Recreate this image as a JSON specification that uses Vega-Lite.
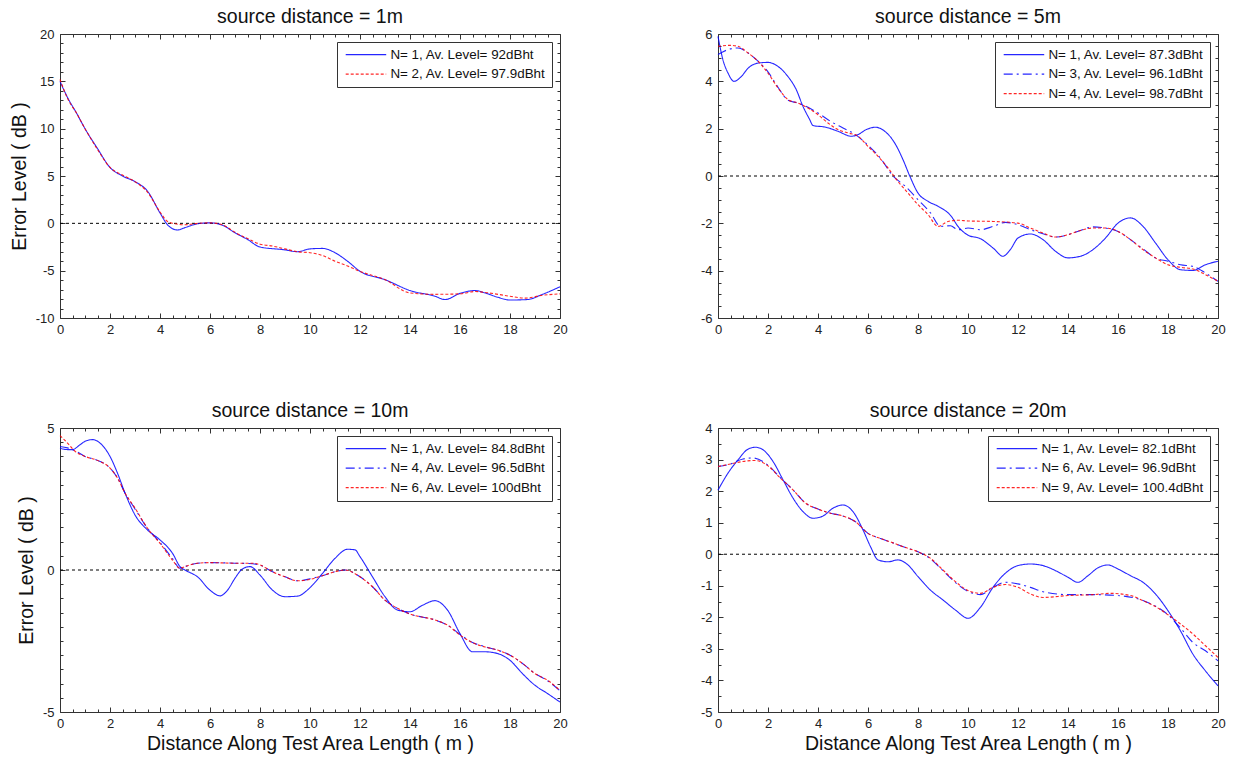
{
  "$schema": "https://vega.github.io/schema/vega-lite/v6.json",
  "background": "white",
  "padding": {"left": 8, "top": 6, "right": 5, "bottom": 2},
  "datasets": {
    "d1": [
      {"n":1,"x":0,"y":15.0},{"n":1,"x":0.3,"y":13.3},{"n":1,"x":0.67,"y":11.6},{"n":1,"x":1,"y":10.0},{"n":1,"x":1.5,"y":7.9},{"n":1,"x":2,"y":5.9},{"n":1,"x":2.5,"y":5.0},{"n":1,"x":3,"y":4.4},{"n":1,"x":3.5,"y":3.4},{"n":1,"x":4,"y":1.1},{"n":1,"x":4.3,"y":-0.15},{"n":1,"x":4.7,"y":-0.7},{"n":1,"x":5,"y":-0.45},{"n":1,"x":5.5,"y":-0.05},{"n":1,"x":6,"y":0.05},{"n":1,"x":6.5,"y":-0.2},{"n":1,"x":7,"y":-1.0},{"n":1,"x":7.5,"y":-1.7},{"n":1,"x":8,"y":-2.5},{"n":1,"x":9,"y":-2.8},{"n":1,"x":9.5,"y":-3.0},{"n":1,"x":10,"y":-2.7},{"n":1,"x":10.5,"y":-2.65},{"n":1,"x":11,"y":-3.1},{"n":1,"x":11.5,"y":-4.0},{"n":1,"x":12,"y":-5.07},{"n":1,"x":13,"y":-5.95},{"n":1,"x":14,"y":-7.1},{"n":1,"x":15,"y":-7.7},{"n":1,"x":15.4,"y":-8.05},{"n":1,"x":16,"y":-7.4},{"n":1,"x":16.6,"y":-7.1},{"n":1,"x":17,"y":-7.35},{"n":1,"x":17.5,"y":-7.8},{"n":1,"x":18,"y":-8.1},{"n":1,"x":18.7,"y":-8.05},{"n":1,"x":19.3,"y":-7.5},{"n":1,"x":20,"y":-6.7},
      {"n":2,"x":0,"y":15.2},{"n":2,"x":0.3,"y":13.2},{"n":2,"x":0.67,"y":11.6},{"n":2,"x":1,"y":10.0},{"n":2,"x":1.5,"y":7.8},{"n":2,"x":2,"y":5.9},{"n":2,"x":2.5,"y":5.1},{"n":2,"x":3,"y":4.4},{"n":2,"x":3.5,"y":3.3},{"n":2,"x":4,"y":1.2},{"n":2,"x":4.3,"y":0.2},{"n":2,"x":4.6,"y":-0.05},{"n":2,"x":5,"y":-0.15},{"n":2,"x":5.5,"y":0.0},{"n":2,"x":6,"y":0.05},{"n":2,"x":6.5,"y":-0.15},{"n":2,"x":7,"y":-0.95},{"n":2,"x":7.5,"y":-1.6},{"n":2,"x":8,"y":-2.2},{"n":2,"x":8.5,"y":-2.4},{"n":2,"x":9,"y":-2.7},{"n":2,"x":9.5,"y":-3.0},{"n":2,"x":10,"y":-3.1},{"n":2,"x":10.5,"y":-3.4},{"n":2,"x":11,"y":-4.0},{"n":2,"x":11.5,"y":-4.5},{"n":2,"x":12,"y":-5.07},{"n":2,"x":13,"y":-5.95},{"n":2,"x":14,"y":-7.35},{"n":2,"x":15,"y":-7.5},{"n":2,"x":16,"y":-7.45},{"n":2,"x":16.6,"y":-7.2},{"n":2,"x":17,"y":-7.3},{"n":2,"x":18,"y":-7.7},{"n":2,"x":18.6,"y":-7.9},{"n":2,"x":19.3,"y":-7.6},{"n":2,"x":20,"y":-7.45}
    ],
    "d5": [
      {"n":1,"x":0,"y":5.9},{"n":1,"x":0.2,"y":4.9},{"n":1,"x":0.4,"y":4.35},{"n":1,"x":0.64,"y":4.0},{"n":1,"x":0.93,"y":4.2},{"n":1,"x":1.2,"y":4.55},{"n":1,"x":1.6,"y":4.77},{"n":1,"x":2,"y":4.8},{"n":1,"x":2.4,"y":4.63},{"n":1,"x":2.8,"y":4.2},{"n":1,"x":3.13,"y":3.65},{"n":1,"x":3.4,"y":2.94},{"n":1,"x":3.67,"y":2.38},{"n":1,"x":3.8,"y":2.13},{"n":1,"x":4.27,"y":2.07},{"n":1,"x":4.8,"y":1.89},{"n":1,"x":5.33,"y":1.68},{"n":1,"x":5.6,"y":1.75},{"n":1,"x":5.93,"y":1.96},{"n":1,"x":6.3,"y":2.06},{"n":1,"x":6.67,"y":1.89},{"n":1,"x":7.07,"y":1.39},{"n":1,"x":7.4,"y":0.69},{"n":1,"x":7.67,"y":0.0},{"n":1,"x":8,"y":-0.72},{"n":1,"x":8.4,"y":-1.07},{"n":1,"x":8.8,"y":-1.28},{"n":1,"x":9.33,"y":-1.7},{"n":1,"x":9.6,"y":-2.13},{"n":1,"x":10,"y":-2.5},{"n":1,"x":10.5,"y":-2.65},{"n":1,"x":11,"y":-3.04},{"n":1,"x":11.4,"y":-3.39},{"n":1,"x":11.7,"y":-3.1},{"n":1,"x":12,"y":-2.62},{"n":1,"x":12.5,"y":-2.45},{"n":1,"x":13,"y":-2.69},{"n":1,"x":13.5,"y":-3.18},{"n":1,"x":14,"y":-3.46},{"n":1,"x":14.5,"y":-3.39},{"n":1,"x":15,"y":-3.11},{"n":1,"x":15.5,"y":-2.62},{"n":1,"x":16,"y":-1.99},{"n":1,"x":16.5,"y":-1.77},{"n":1,"x":17,"y":-2.13},{"n":1,"x":17.5,"y":-2.83},{"n":1,"x":18,"y":-3.54},{"n":1,"x":18.5,"y":-3.96},{"n":1,"x":19,"y":-3.99},{"n":1,"x":19.5,"y":-3.75},{"n":1,"x":20,"y":-3.6},
      {"n":3,"x":0,"y":5.13},{"n":3,"x":0.4,"y":5.34},{"n":3,"x":0.8,"y":5.41},{"n":3,"x":1.2,"y":5.2},{"n":3,"x":1.6,"y":4.85},{"n":3,"x":2,"y":4.4},{"n":3,"x":2.4,"y":3.75},{"n":3,"x":2.8,"y":3.2},{"n":3,"x":3.2,"y":3.08},{"n":3,"x":3.6,"y":2.9},{"n":3,"x":4,"y":2.66},{"n":3,"x":4.5,"y":2.31},{"n":3,"x":5,"y":2.03},{"n":3,"x":5.5,"y":1.75},{"n":3,"x":6,"y":1.3},{"n":3,"x":6.5,"y":0.75},{"n":3,"x":7,"y":0.0},{"n":3,"x":7.5,"y":-0.44},{"n":3,"x":8,"y":-1.0},{"n":3,"x":8.5,"y":-1.56},{"n":3,"x":8.9,"y":-2.13},{"n":3,"x":9.3,"y":-2.1},{"n":3,"x":9.6,"y":-2.27},{"n":3,"x":10,"y":-2.2},{"n":3,"x":10.5,"y":-2.27},{"n":3,"x":11,"y":-2.13},{"n":3,"x":11.5,"y":-1.96},{"n":3,"x":12,"y":-2.06},{"n":3,"x":12.5,"y":-2.27},{"n":3,"x":13,"y":-2.44},{"n":3,"x":13.5,"y":-2.58},{"n":3,"x":14,"y":-2.48},{"n":3,"x":14.5,"y":-2.3},{"n":3,"x":15,"y":-2.15},{"n":3,"x":15.5,"y":-2.2},{"n":3,"x":16,"y":-2.34},{"n":3,"x":16.5,"y":-2.69},{"n":3,"x":17,"y":-3.08},{"n":3,"x":17.5,"y":-3.46},{"n":3,"x":18,"y":-3.6},{"n":3,"x":18.5,"y":-3.75},{"n":3,"x":19,"y":-3.82},{"n":3,"x":19.5,"y":-4.1},{"n":3,"x":20,"y":-4.45},
      {"n":4,"x":0,"y":5.48},{"n":4,"x":0.5,"y":5.52},{"n":4,"x":0.8,"y":5.48},{"n":4,"x":1.2,"y":5.2},{"n":4,"x":1.6,"y":4.85},{"n":4,"x":2,"y":4.35},{"n":4,"x":2.4,"y":3.72},{"n":4,"x":2.8,"y":3.23},{"n":4,"x":3.2,"y":3.08},{"n":4,"x":3.6,"y":2.87},{"n":4,"x":4,"y":2.59},{"n":4,"x":4.4,"y":2.24},{"n":4,"x":4.8,"y":1.96},{"n":4,"x":5.2,"y":1.82},{"n":4,"x":5.6,"y":1.68},{"n":4,"x":6,"y":1.25},{"n":4,"x":6.4,"y":0.83},{"n":4,"x":6.8,"y":0.34},{"n":4,"x":7.2,"y":-0.23},{"n":4,"x":7.6,"y":-0.72},{"n":4,"x":8,"y":-1.21},{"n":4,"x":8.4,"y":-1.63},{"n":4,"x":8.8,"y":-2.13},{"n":4,"x":9.2,"y":-1.92},{"n":4,"x":9.6,"y":-1.87},{"n":4,"x":10,"y":-1.9},{"n":4,"x":11,"y":-1.92},{"n":4,"x":12,"y":-1.99},{"n":4,"x":12.5,"y":-2.2},{"n":4,"x":13,"y":-2.41},{"n":4,"x":13.5,"y":-2.58},{"n":4,"x":14,"y":-2.48},{"n":4,"x":14.5,"y":-2.3},{"n":4,"x":15,"y":-2.2},{"n":4,"x":15.5,"y":-2.2},{"n":4,"x":16,"y":-2.34},{"n":4,"x":16.5,"y":-2.69},{"n":4,"x":17,"y":-3.11},{"n":4,"x":17.5,"y":-3.46},{"n":4,"x":18,"y":-3.75},{"n":4,"x":18.5,"y":-3.86},{"n":4,"x":19,"y":-3.93},{"n":4,"x":19.5,"y":-4.17},{"n":4,"x":20,"y":-4.45}
    ],
    "d10": [
      {"n":1,"x":0,"y":4.29},{"n":1,"x":0.3,"y":4.24},{"n":1,"x":0.5,"y":4.24},{"n":1,"x":0.8,"y":4.41},{"n":1,"x":1,"y":4.53},{"n":1,"x":1.3,"y":4.59},{"n":1,"x":1.6,"y":4.47},{"n":1,"x":2,"y":4.0},{"n":1,"x":2.3,"y":3.41},{"n":1,"x":2.6,"y":2.71},{"n":1,"x":3,"y":1.94},{"n":1,"x":3.5,"y":1.41},{"n":1,"x":4,"y":1.06},{"n":1,"x":4.5,"y":0.59},{"n":1,"x":4.8,"y":0.12},{"n":1,"x":5,"y":0.0},{"n":1,"x":5.5,"y":-0.24},{"n":1,"x":6,"y":-0.71},{"n":1,"x":6.4,"y":-0.91},{"n":1,"x":6.7,"y":-0.71},{"n":1,"x":7,"y":-0.29},{"n":1,"x":7.3,"y":0.04},{"n":1,"x":7.6,"y":0.12},{"n":1,"x":8,"y":-0.18},{"n":1,"x":8.5,"y":-0.71},{"n":1,"x":9,"y":-0.94},{"n":1,"x":9.5,"y":-0.92},{"n":1,"x":10,"y":-0.62},{"n":1,"x":10.5,"y":-0.12},{"n":1,"x":11,"y":0.41},{"n":1,"x":11.5,"y":0.73},{"n":1,"x":11.8,"y":0.71},{"n":1,"x":12,"y":0.47},{"n":1,"x":12.5,"y":-0.24},{"n":1,"x":13,"y":-0.94},{"n":1,"x":13.5,"y":-1.41},{"n":1,"x":14,"y":-1.47},{"n":1,"x":14.5,"y":-1.24},{"n":1,"x":15,"y":-1.08},{"n":1,"x":15.5,"y":-1.41},{"n":1,"x":16,"y":-2.24},{"n":1,"x":16.5,"y":-2.88},{"n":1,"x":17,"y":-2.88},{"n":1,"x":17.5,"y":-2.94},{"n":1,"x":18,"y":-3.18},{"n":1,"x":18.5,"y":-3.65},{"n":1,"x":19,"y":-4.06},{"n":1,"x":19.5,"y":-4.35},{"n":1,"x":20,"y":-4.65},
      {"n":4,"x":0,"y":4.35},{"n":4,"x":0.3,"y":4.3},{"n":4,"x":0.6,"y":4.2},{"n":4,"x":1,"y":4.0},{"n":4,"x":1.5,"y":3.86},{"n":4,"x":2,"y":3.59},{"n":4,"x":2.3,"y":3.24},{"n":4,"x":2.6,"y":2.71},{"n":4,"x":3,"y":2.15},{"n":4,"x":3.5,"y":1.47},{"n":4,"x":4,"y":0.97},{"n":4,"x":4.5,"y":0.4},{"n":4,"x":4.8,"y":0.06},{"n":4,"x":5,"y":0.12},{"n":4,"x":5.5,"y":0.24},{"n":4,"x":6,"y":0.26},{"n":4,"x":7,"y":0.24},{"n":4,"x":7.7,"y":0.22},{"n":4,"x":8,"y":0.17},{"n":4,"x":8.5,"y":-0.06},{"n":4,"x":9,"y":-0.24},{"n":4,"x":9.5,"y":-0.38},{"n":4,"x":10,"y":-0.31},{"n":4,"x":10.5,"y":-0.2},{"n":4,"x":11,"y":-0.06},{"n":4,"x":11.4,"y":0.0},{"n":4,"x":12,"y":-0.24},{"n":4,"x":12.5,"y":-0.59},{"n":4,"x":13,"y":-1.06},{"n":4,"x":13.5,"y":-1.35},{"n":4,"x":14,"y":-1.55},{"n":4,"x":15,"y":-1.76},{"n":4,"x":15.5,"y":-1.94},{"n":4,"x":16,"y":-2.27},{"n":4,"x":16.5,"y":-2.55},{"n":4,"x":17,"y":-2.7},{"n":4,"x":17.5,"y":-2.82},{"n":4,"x":18,"y":-3.0},{"n":4,"x":18.5,"y":-3.29},{"n":4,"x":19,"y":-3.64},{"n":4,"x":19.5,"y":-3.9},{"n":4,"x":20,"y":-4.25},
      {"n":6,"x":0,"y":4.73},{"n":6,"x":0.3,"y":4.47},{"n":6,"x":0.6,"y":4.18},{"n":6,"x":1,"y":4.0},{"n":6,"x":1.5,"y":3.86},{"n":6,"x":2,"y":3.59},{"n":6,"x":2.3,"y":3.24},{"n":6,"x":2.6,"y":2.71},{"n":6,"x":3,"y":2.18},{"n":6,"x":3.5,"y":1.47},{"n":6,"x":4,"y":0.94},{"n":6,"x":4.5,"y":0.35},{"n":6,"x":4.8,"y":0.06},{"n":6,"x":5,"y":0.12},{"n":6,"x":5.5,"y":0.24},{"n":6,"x":6,"y":0.26},{"n":6,"x":7,"y":0.24},{"n":6,"x":7.7,"y":0.24},{"n":6,"x":8,"y":0.18},{"n":6,"x":8.5,"y":-0.06},{"n":6,"x":9,"y":-0.24},{"n":6,"x":9.5,"y":-0.38},{"n":6,"x":10,"y":-0.33},{"n":6,"x":10.5,"y":-0.2},{"n":6,"x":11,"y":-0.06},{"n":6,"x":11.4,"y":0.0},{"n":6,"x":12,"y":-0.24},{"n":6,"x":12.5,"y":-0.59},{"n":6,"x":13,"y":-1.06},{"n":6,"x":13.5,"y":-1.35},{"n":6,"x":14,"y":-1.55},{"n":6,"x":15,"y":-1.76},{"n":6,"x":15.5,"y":-1.94},{"n":6,"x":16,"y":-2.29},{"n":6,"x":16.5,"y":-2.56},{"n":6,"x":17,"y":-2.71},{"n":6,"x":17.5,"y":-2.82},{"n":6,"x":18,"y":-3.0},{"n":6,"x":18.5,"y":-3.29},{"n":6,"x":19,"y":-3.65},{"n":6,"x":19.5,"y":-3.88},{"n":6,"x":20,"y":-4.24}
    ],
    "d20": [
      {"n":1,"x":0,"y":2.03},{"n":1,"x":0.4,"y":2.57},{"n":1,"x":0.8,"y":2.99},{"n":1,"x":1.2,"y":3.33},{"n":1,"x":1.5,"y":3.39},{"n":1,"x":1.8,"y":3.31},{"n":1,"x":2.2,"y":2.94},{"n":1,"x":2.6,"y":2.36},{"n":1,"x":3,"y":1.78},{"n":1,"x":3.4,"y":1.35},{"n":1,"x":3.8,"y":1.14},{"n":1,"x":4.2,"y":1.21},{"n":1,"x":4.6,"y":1.46},{"n":1,"x":5,"y":1.56},{"n":1,"x":5.4,"y":1.35},{"n":1,"x":5.8,"y":0.77},{"n":1,"x":6.1,"y":0.24},{"n":1,"x":6.4,"y":-0.18},{"n":1,"x":6.8,"y":-0.24},{"n":1,"x":7.2,"y":-0.18},{"n":1,"x":7.6,"y":-0.34},{"n":1,"x":8,"y":-0.71},{"n":1,"x":8.5,"y":-1.14},{"n":1,"x":9,"y":-1.45},{"n":1,"x":9.5,"y":-1.77},{"n":1,"x":10,"y":-2.03},{"n":1,"x":10.5,"y":-1.68},{"n":1,"x":11,"y":-1.05},{"n":1,"x":11.5,"y":-0.6},{"n":1,"x":12,"y":-0.36},{"n":1,"x":12.5,"y":-0.31},{"n":1,"x":13,"y":-0.36},{"n":1,"x":13.5,"y":-0.52},{"n":1,"x":14,"y":-0.73},{"n":1,"x":14.4,"y":-0.89},{"n":1,"x":14.8,"y":-0.68},{"n":1,"x":15.2,"y":-0.43},{"n":1,"x":15.6,"y":-0.34},{"n":1,"x":16,"y":-0.47},{"n":1,"x":16.5,"y":-0.68},{"n":1,"x":17,"y":-0.89},{"n":1,"x":17.5,"y":-1.26},{"n":1,"x":18,"y":-1.79},{"n":1,"x":18.5,"y":-2.43},{"n":1,"x":19,"y":-3.17},{"n":1,"x":19.5,"y":-3.7},{"n":1,"x":20,"y":-4.17},
      {"n":6,"x":0,"y":2.78},{"n":6,"x":0.5,"y":2.86},{"n":6,"x":1,"y":3.02},{"n":6,"x":1.4,"y":3.05},{"n":6,"x":2,"y":2.82},{"n":6,"x":2.5,"y":2.42},{"n":6,"x":3,"y":2.04},{"n":6,"x":3.5,"y":1.62},{"n":6,"x":4,"y":1.43},{"n":6,"x":4.5,"y":1.3},{"n":6,"x":5,"y":1.21},{"n":6,"x":5.5,"y":1.03},{"n":6,"x":6,"y":0.66},{"n":6,"x":6.5,"y":0.5},{"n":6,"x":7,"y":0.36},{"n":6,"x":7.5,"y":0.21},{"n":6,"x":8,"y":0.08},{"n":6,"x":8.5,"y":-0.15},{"n":6,"x":9,"y":-0.52},{"n":6,"x":9.5,"y":-0.9},{"n":6,"x":10,"y":-1.18},{"n":6,"x":10.5,"y":-1.28},{"n":6,"x":11,"y":-1.05},{"n":6,"x":11.5,"y":-0.89},{"n":6,"x":12,"y":-0.94},{"n":6,"x":12.5,"y":-1.05},{"n":6,"x":13,"y":-1.19},{"n":6,"x":14,"y":-1.28},{"n":6,"x":15,"y":-1.28},{"n":6,"x":16,"y":-1.31},{"n":6,"x":17,"y":-1.47},{"n":6,"x":18,"y":-1.92},{"n":6,"x":18.5,"y":-2.34},{"n":6,"x":19,"y":-2.8},{"n":6,"x":19.5,"y":-3.06},{"n":6,"x":20,"y":-3.38},
      {"n":9,"x":0,"y":2.78},{"n":9,"x":0.5,"y":2.86},{"n":9,"x":1,"y":2.94},{"n":9,"x":1.5,"y":2.97},{"n":9,"x":2,"y":2.8},{"n":9,"x":2.5,"y":2.41},{"n":9,"x":3,"y":2.04},{"n":9,"x":3.5,"y":1.62},{"n":9,"x":4,"y":1.43},{"n":9,"x":4.5,"y":1.3},{"n":9,"x":5,"y":1.21},{"n":9,"x":5.5,"y":1.03},{"n":9,"x":6,"y":0.66},{"n":9,"x":6.5,"y":0.5},{"n":9,"x":7,"y":0.36},{"n":9,"x":7.5,"y":0.21},{"n":9,"x":8,"y":0.08},{"n":9,"x":8.5,"y":-0.13},{"n":9,"x":9,"y":-0.5},{"n":9,"x":9.5,"y":-0.87},{"n":9,"x":10,"y":-1.15},{"n":9,"x":10.5,"y":-1.24},{"n":9,"x":11,"y":-1.05},{"n":9,"x":11.5,"y":-0.96},{"n":9,"x":12,"y":-1.05},{"n":9,"x":12.5,"y":-1.26},{"n":9,"x":13,"y":-1.37},{"n":9,"x":14,"y":-1.31},{"n":9,"x":15,"y":-1.28},{"n":9,"x":15.7,"y":-1.24},{"n":9,"x":16.5,"y":-1.31},{"n":9,"x":17,"y":-1.47},{"n":9,"x":17.5,"y":-1.66},{"n":9,"x":18,"y":-1.92},{"n":9,"x":18.5,"y":-2.21},{"n":9,"x":19,"y":-2.53},{"n":9,"x":19.5,"y":-2.9},{"n":9,"x":20,"y":-3.27}
    ],
    "zero": [{"level": 0}]
  },
  "columns": 2,
  "spacing": {"row": 110, "column": 158},
  "bounds": "flush",
  "concat": [
    {
      "width": 500, "height": 284,
      "title": {"text": "source distance = 1m"},
      "layer": [
        {
          "data": {"name": "zero"},
          "mark": {"type": "rule", "color": "#000", "strokeWidth": 1, "strokeDash": [3, 3]},
          "encoding": {
            "x": {"datum": 0, "type": "quantitative", "axis": {"orient": "top", "labels": false, "title": null, "values": [0,0.5,1,1.5,2,2.5,3,3.5,4,4.5,5,5.5,6,6.5,7,7.5,8,8.5,9,9.5,10,10.5,11,11.5,12,12.5,13,13.5,14,14.5,15,15.5,16,16.5,17,17.5,18,18.5,19,19.5,20], "tickSize": {"condition": {"test": "datum.value % 2 === 0", "value": -5}, "value": -3}}},
            "x2": {"datum": 20},
            "y": {"field": "level", "type": "quantitative", "axis": {"orient": "right", "labels": false, "title": null, "values": [-10,-9,-8,-7,-6,-5,-4,-3,-2,-1,0,1,2,3,4,5,6,7,8,9,10,11,12,13,14,15,16,17,18,19,20], "tickSize": {"condition": {"test": "datum.value % 5 === 0", "value": -5}, "value": -3}}}
          }
        },
        {
          "data": {"name": "d1"},
          "mark": {"type": "line", "interpolate": "monotone", "strokeWidth": 1.1, "opacity": 0.85},
          "encoding": {
            "x": {"field": "x", "type": "quantitative", "scale": {"domain": [0, 20], "nice": false, "zero": false}, "axis": {"orient": "bottom", "title": null, "values": [0,0.5,1,1.5,2,2.5,3,3.5,4,4.5,5,5.5,6,6.5,7,7.5,8,8.5,9,9.5,10,10.5,11,11.5,12,12.5,13,13.5,14,14.5,15,15.5,16,16.5,17,17.5,18,18.5,19,19.5,20], "labelExpr": "datum.value % 2 === 0 ? '' + datum.value : ''", "tickSize": {"condition": {"test": "datum.value % 2 === 0", "value": -5}, "value": -3}, "labelPadding": 10}},
            "y": {"field": "y", "type": "quantitative", "scale": {"domain": [-10, 20], "nice": false, "zero": false}, "axis": {"orient": "left", "title": "Error Level ( dB )", "values": [-10,-9,-8,-7,-6,-5,-4,-3,-2,-1,0,1,2,3,4,5,6,7,8,9,10,11,12,13,14,15,16,17,18,19,20], "labelExpr": "datum.value % 5 === 0 ? '' + datum.value : ''", "tickSize": {"condition": {"test": "datum.value % 5 === 0", "value": -5}, "value": -3}, "labelPadding": 11}},
            "color": {"field": "n", "type": "nominal", "scale": {"domain": [1, 2], "range": ["#0000ff", "#ff0000"]},
              "legend": {"orient": "top-right", "offset": 8, "title": null, "symbolType": "M-26,0H1", "symbolSize": 9, "symbolOffset": 35, "symbolStrokeWidth": 1.2, "labelOffset": -1, "rowPadding": 4.5, "padding": 6, "strokeColor": "#333", "fillColor": "white", "labelLimit": 400,
                "labelExpr": "datum.value == 1 ? 'N= 1, Av. Level= 92dBht' : 'N= 2, Av. Level= 97.9dBht'"}},
            "strokeDash": {"field": "n", "type": "nominal", "scale": {"domain": [1, 2], "range": [[1, 0], [3, 2]]},
              "legend": {"orient": "top-right", "offset": 8, "title": null, "symbolType": "M-26,0H1", "symbolSize": 9, "symbolOffset": 35, "symbolStrokeWidth": 1.2, "labelOffset": -1, "rowPadding": 4.5, "padding": 6, "strokeColor": "#333", "fillColor": "white", "labelLimit": 400,
                "labelExpr": "datum.value == 1 ? 'N= 1, Av. Level= 92dBht' : 'N= 2, Av. Level= 97.9dBht'"}}
          }
        }
      ],
      "resolve": {"axis": {"x": "independent", "y": "independent"}}
    },
    {
      "width": 500, "height": 284,
      "title": {"text": "source distance = 5m"},
      "layer": [
        {
          "data": {"name": "zero"},
          "mark": {"type": "rule", "color": "#000", "strokeWidth": 1, "strokeDash": [3, 3]},
          "encoding": {
            "x": {"datum": 0, "type": "quantitative", "axis": {"orient": "top", "labels": false, "title": null, "values": [0,0.5,1,1.5,2,2.5,3,3.5,4,4.5,5,5.5,6,6.5,7,7.5,8,8.5,9,9.5,10,10.5,11,11.5,12,12.5,13,13.5,14,14.5,15,15.5,16,16.5,17,17.5,18,18.5,19,19.5,20], "tickSize": {"condition": {"test": "datum.value % 2 === 0", "value": -5}, "value": -3}}},
            "x2": {"datum": 20},
            "y": {"field": "level", "type": "quantitative", "axis": {"orient": "right", "labels": false, "title": null, "values": [-6,-5.5,-5,-4.5,-4,-3.5,-3,-2.5,-2,-1.5,-1,-0.5,0,0.5,1,1.5,2,2.5,3,3.5,4,4.5,5,5.5,6], "tickSize": {"condition": {"test": "datum.value % 2 === 0", "value": -5}, "value": -3}}}
          }
        },
        {
          "data": {"name": "d5"},
          "mark": {"type": "line", "interpolate": "monotone", "strokeWidth": 1.1, "opacity": 0.85},
          "encoding": {
            "x": {"field": "x", "type": "quantitative", "scale": {"domain": [0, 20], "nice": false, "zero": false}, "axis": {"orient": "bottom", "title": null, "values": [0,0.5,1,1.5,2,2.5,3,3.5,4,4.5,5,5.5,6,6.5,7,7.5,8,8.5,9,9.5,10,10.5,11,11.5,12,12.5,13,13.5,14,14.5,15,15.5,16,16.5,17,17.5,18,18.5,19,19.5,20], "labelExpr": "datum.value % 2 === 0 ? '' + datum.value : ''", "tickSize": {"condition": {"test": "datum.value % 2 === 0", "value": -5}, "value": -3}, "labelPadding": 10}},
            "y": {"field": "y", "type": "quantitative", "scale": {"domain": [-6, 6], "nice": false, "zero": false}, "axis": {"orient": "left", "title": null, "values": [-6,-5.5,-5,-4.5,-4,-3.5,-3,-2.5,-2,-1.5,-1,-0.5,0,0.5,1,1.5,2,2.5,3,3.5,4,4.5,5,5.5,6], "labelExpr": "datum.value % 2 === 0 ? '' + datum.value : ''", "tickSize": {"condition": {"test": "datum.value % 2 === 0", "value": -5}, "value": -3}, "labelPadding": 11}},
            "color": {"field": "n", "type": "nominal", "scale": {"domain": [1, 3, 4], "range": ["#0000ff", "#0000ff", "#ff0000"]},
              "legend": {"orient": "top-right", "offset": 8, "title": null, "symbolType": "M-26,0H1", "symbolSize": 9, "symbolOffset": 35, "symbolStrokeWidth": 1.2, "labelOffset": -1, "rowPadding": 4.5, "padding": 6, "strokeColor": "#333", "fillColor": "white", "labelLimit": 400,
                "labelExpr": "datum.value == 1 ? 'N= 1, Av. Level= 87.3dBht' : datum.value == 3 ? 'N= 3, Av. Level= 96.1dBht' : 'N= 4, Av. Level= 98.7dBht'"}},
            "strokeDash": {"field": "n", "type": "nominal", "scale": {"domain": [1, 3, 4], "range": [[1, 0], [9, 4, 2, 4], [3, 2]]},
              "legend": {"orient": "top-right", "offset": 8, "title": null, "symbolType": "M-26,0H1", "symbolSize": 9, "symbolOffset": 35, "symbolStrokeWidth": 1.2, "labelOffset": -1, "rowPadding": 4.5, "padding": 6, "strokeColor": "#333", "fillColor": "white", "labelLimit": 400,
                "labelExpr": "datum.value == 1 ? 'N= 1, Av. Level= 87.3dBht' : datum.value == 3 ? 'N= 3, Av. Level= 96.1dBht' : 'N= 4, Av. Level= 98.7dBht'"}}
          }
        }
      ],
      "resolve": {"axis": {"x": "independent", "y": "independent"}}
    },
    {
      "width": 500, "height": 284,
      "title": {"text": "source distance = 10m"},
      "layer": [
        {
          "data": {"name": "zero"},
          "mark": {"type": "rule", "color": "#000", "strokeWidth": 1, "strokeDash": [3, 3]},
          "encoding": {
            "x": {"datum": 0, "type": "quantitative", "axis": {"orient": "top", "labels": false, "title": null, "values": [0,0.5,1,1.5,2,2.5,3,3.5,4,4.5,5,5.5,6,6.5,7,7.5,8,8.5,9,9.5,10,10.5,11,11.5,12,12.5,13,13.5,14,14.5,15,15.5,16,16.5,17,17.5,18,18.5,19,19.5,20], "tickSize": {"condition": {"test": "datum.value % 2 === 0", "value": -5}, "value": -3}}},
            "x2": {"datum": 20},
            "y": {"field": "level", "type": "quantitative", "axis": {"orient": "right", "labels": false, "title": null, "values": [-5,-4.5,-4,-3.5,-3,-2.5,-2,-1.5,-1,-0.5,0,0.5,1,1.5,2,2.5,3,3.5,4,4.5,5], "tickSize": {"condition": {"test": "datum.value % 5 === 0", "value": -5}, "value": -3}}}
          }
        },
        {
          "data": {"name": "d10"},
          "mark": {"type": "line", "interpolate": "monotone", "strokeWidth": 1.1, "opacity": 0.85},
          "encoding": {
            "x": {"field": "x", "type": "quantitative", "scale": {"domain": [0, 20], "nice": false, "zero": false}, "axis": {"orient": "bottom", "title": "Distance Along Test Area Length ( m )", "values": [0,0.5,1,1.5,2,2.5,3,3.5,4,4.5,5,5.5,6,6.5,7,7.5,8,8.5,9,9.5,10,10.5,11,11.5,12,12.5,13,13.5,14,14.5,15,15.5,16,16.5,17,17.5,18,18.5,19,19.5,20], "labelExpr": "datum.value % 2 === 0 ? '' + datum.value : ''", "tickSize": {"condition": {"test": "datum.value % 2 === 0", "value": -5}, "value": -3}, "labelPadding": 10, "titlePadding": 2}},
            "y": {"field": "y", "type": "quantitative", "scale": {"domain": [-5, 5], "nice": false, "zero": false}, "axis": {"orient": "left", "title": "Error Level ( dB )", "values": [-5,-4.5,-4,-3.5,-3,-2.5,-2,-1.5,-1,-0.5,0,0.5,1,1.5,2,2.5,3,3.5,4,4.5,5], "labelExpr": "datum.value % 5 === 0 ? '' + datum.value : ''", "tickSize": {"condition": {"test": "datum.value % 5 === 0", "value": -5}, "value": -3}, "labelPadding": 11}},
            "color": {"field": "n", "type": "nominal", "scale": {"domain": [1, 4, 6], "range": ["#0000ff", "#0000ff", "#ff0000"]},
              "legend": {"orient": "top-right", "offset": 8, "title": null, "symbolType": "M-26,0H1", "symbolSize": 9, "symbolOffset": 35, "symbolStrokeWidth": 1.2, "labelOffset": -1, "rowPadding": 4.5, "padding": 6, "strokeColor": "#333", "fillColor": "white", "labelLimit": 400,
                "labelExpr": "datum.value == 1 ? 'N= 1, Av. Level= 84.8dBht' : datum.value == 4 ? 'N= 4, Av. Level= 96.5dBht' : 'N= 6, Av. Level= 100dBht'"}},
            "strokeDash": {"field": "n", "type": "nominal", "scale": {"domain": [1, 4, 6], "range": [[1, 0], [9, 4, 2, 4], [3, 2]]},
              "legend": {"orient": "top-right", "offset": 8, "title": null, "symbolType": "M-26,0H1", "symbolSize": 9, "symbolOffset": 35, "symbolStrokeWidth": 1.2, "labelOffset": -1, "rowPadding": 4.5, "padding": 6, "strokeColor": "#333", "fillColor": "white", "labelLimit": 400,
                "labelExpr": "datum.value == 1 ? 'N= 1, Av. Level= 84.8dBht' : datum.value == 4 ? 'N= 4, Av. Level= 96.5dBht' : 'N= 6, Av. Level= 100dBht'"}}
          }
        }
      ],
      "resolve": {"axis": {"x": "independent", "y": "independent"}}
    },
    {
      "width": 500, "height": 284,
      "title": {"text": "source distance = 20m"},
      "layer": [
        {
          "data": {"name": "zero"},
          "mark": {"type": "rule", "color": "#000", "strokeWidth": 1, "strokeDash": [3, 3]},
          "encoding": {
            "x": {"datum": 0, "type": "quantitative", "axis": {"orient": "top", "labels": false, "title": null, "values": [0,0.5,1,1.5,2,2.5,3,3.5,4,4.5,5,5.5,6,6.5,7,7.5,8,8.5,9,9.5,10,10.5,11,11.5,12,12.5,13,13.5,14,14.5,15,15.5,16,16.5,17,17.5,18,18.5,19,19.5,20], "tickSize": {"condition": {"test": "datum.value % 2 === 0", "value": -5}, "value": -3}}},
            "x2": {"datum": 20},
            "y": {"field": "level", "type": "quantitative", "axis": {"orient": "right", "labels": false, "title": null, "values": [-5,-4.5,-4,-3.5,-3,-2.5,-2,-1.5,-1,-0.5,0,0.5,1,1.5,2,2.5,3,3.5,4], "tickSize": {"condition": {"test": "datum.value % 1 === 0", "value": -5}, "value": -3}}}
          }
        },
        {
          "data": {"name": "d20"},
          "mark": {"type": "line", "interpolate": "monotone", "strokeWidth": 1.1, "opacity": 0.85},
          "encoding": {
            "x": {"field": "x", "type": "quantitative", "scale": {"domain": [0, 20], "nice": false, "zero": false}, "axis": {"orient": "bottom", "title": "Distance Along Test Area Length ( m )", "values": [0,0.5,1,1.5,2,2.5,3,3.5,4,4.5,5,5.5,6,6.5,7,7.5,8,8.5,9,9.5,10,10.5,11,11.5,12,12.5,13,13.5,14,14.5,15,15.5,16,16.5,17,17.5,18,18.5,19,19.5,20], "labelExpr": "datum.value % 2 === 0 ? '' + datum.value : ''", "tickSize": {"condition": {"test": "datum.value % 2 === 0", "value": -5}, "value": -3}, "labelPadding": 10, "titlePadding": 2}},
            "y": {"field": "y", "type": "quantitative", "scale": {"domain": [-5, 4], "nice": false, "zero": false}, "axis": {"orient": "left", "title": null, "values": [-5,-4.5,-4,-3.5,-3,-2.5,-2,-1.5,-1,-0.5,0,0.5,1,1.5,2,2.5,3,3.5,4], "labelExpr": "datum.value % 1 === 0 ? '' + datum.value : ''", "tickSize": {"condition": {"test": "datum.value % 1 === 0", "value": -5}, "value": -3}, "labelPadding": 11}},
            "color": {"field": "n", "type": "nominal", "scale": {"domain": [1, 6, 9], "range": ["#0000ff", "#0000ff", "#ff0000"]},
              "legend": {"orient": "top-right", "offset": 8, "title": null, "symbolType": "M-26,0H1", "symbolSize": 9, "symbolOffset": 35, "symbolStrokeWidth": 1.2, "labelOffset": -1, "rowPadding": 4.5, "padding": 6, "strokeColor": "#333", "fillColor": "white", "labelLimit": 400,
                "labelExpr": "datum.value == 1 ? 'N= 1, Av. Level= 82.1dBht' : datum.value == 6 ? 'N= 6, Av. Level= 96.9dBht' : 'N= 9, Av. Level= 100.4dBht'"}},
            "strokeDash": {"field": "n", "type": "nominal", "scale": {"domain": [1, 6, 9], "range": [[1, 0], [9, 4, 2, 4], [3, 2]]},
              "legend": {"orient": "top-right", "offset": 8, "title": null, "symbolType": "M-26,0H1", "symbolSize": 9, "symbolOffset": 35, "symbolStrokeWidth": 1.2, "labelOffset": -1, "rowPadding": 4.5, "padding": 6, "strokeColor": "#333", "fillColor": "white", "labelLimit": 400,
                "labelExpr": "datum.value == 1 ? 'N= 1, Av. Level= 82.1dBht' : datum.value == 6 ? 'N= 6, Av. Level= 96.9dBht' : 'N= 9, Av. Level= 100.4dBht'"}}
          }
        }
      ],
      "resolve": {"axis": {"x": "independent", "y": "independent"}}
    }
  ],
  "resolve": {
    "scale": {"x": "independent", "y": "independent", "color": "independent", "strokeDash": "independent"},
    "legend": {"color": "independent", "strokeDash": "independent"}
  },
  "config": {
    "view": {"stroke": "#333", "strokeWidth": 1},
    "font": "Liberation Sans",
    "title": {"fontSize": 19.5, "fontWeight": "normal", "color": "#111", "offset": 0.5, "baseline": "alphabetic", "anchor": "middle", "frame": "group"},
    "axis": {
      "domain": false, "grid": false,
      "labelFont": "Liberation Sans", "labelFontSize": 13, "labelColor": "#222",
      "labelFlush": false, "labelOverlap": false, "labelBound": false,
      "tickColor": "#333", "tickWidth": 1,
      "titleFont": "Liberation Sans", "titleFontSize": 19.5, "titleFontWeight": "normal", "titleColor": "#111", "titlePadding": 6
    },
    "legend": {"labelFont": "Liberation Sans", "labelFontSize": 13.4, "labelColor": "#111"}
  }
}
